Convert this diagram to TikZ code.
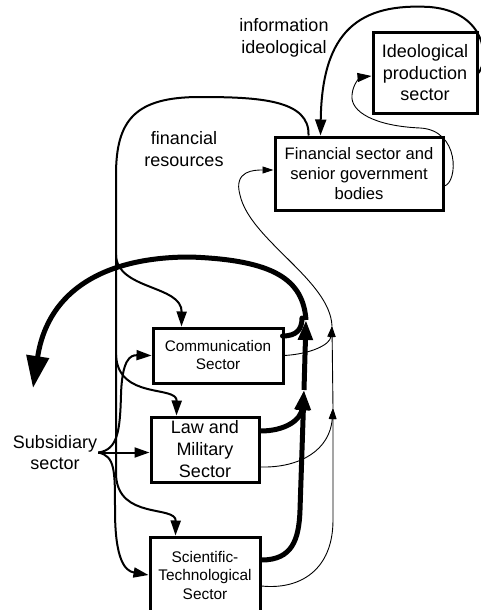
\documentclass[tikz,border=0pt]{standalone}
\usepackage{fontspec}
\setmainfont{Liberation Sans}
\usetikzlibrary{arrows.meta}
\begin{document}
\begin{tikzpicture}[x=1pt,y=-1pt,
  box/.style={draw,line width=3pt,align=center,inner sep=0pt},
  lbl/.style={align=center,inner sep=1pt,font=\fontsize{18}{21.5}\selectfont},
  thinln/.style={line width=0.9pt,-{Triangle[length=11pt,width=7pt]}},
  medln/.style={line width=2pt,-{Triangle[length=15pt,width=10pt]}},
  thickln/.style={line width=5pt,-{Triangle[length=20pt,width=14pt]}},
]
\useasboundingbox (0,0) rectangle (481,610);
\clip (0,0) rectangle (481,610);

% sectors
\node[box,minimum width=104pt,minimum height=80pt,font=\fontsize{18}{21.5}\selectfont] (ideo) at (425,73) {Ideological\\production\\sector};
\node[box,minimum width=168pt,minimum height=73pt,font=\fontsize{16.6}{20}\selectfont] (fin) at (359,173.5) {Financial sector and\\senior government\\bodies};
\node[box,minimum width=130pt,minimum height=55pt,font=\fontsize{15.3}{18}\selectfont] (comm) at (218,355.5) {Communication\\Sector};
\node[box,minimum width=108pt,minimum height=65pt,font=\fontsize{18}{22}\selectfont] (law) at (205,449.5) {Law and\\Military\\Sector};
\node[box,minimum width=110pt,minimum height=76pt,font=\fontsize{15.4}{18.5}\selectfont] (sci) at (205,575) {Scientific-\\Technological\\Sector};

% free labels
\node[lbl] (info) at (284,38) {information\\ideological};
\node[lbl] (finres) at (184,149) {financial\\resources};
\node[lbl] (subs) at (55,452.5) {Subsidiary\\sector};

% junction points
\coordinate (fr1) at (116,255);
\coordinate (fr2) at (116,355);
\coordinate (fr3) at (116,475);
\coordinate (tk1) at (304,390);
\coordinate (tk2) at (306,320);
\coordinate (tn1) at (333,408);
\coordinate (tn2) at (332,326);
\coordinate (out) at (33,388);

% ideological flow into the financial sector
\draw[line width=2pt,-{Triangle[length=16pt,width=11pt]}] (ideo.east) .. controls (489,60) and (487,12) .. (430,7) .. controls (360,3) and (322,30) .. ([xshift=47pt]fin.north west);
% return flow to ideological production
\draw[line width=0.9pt,-{Triangle[length=14pt,width=9pt]}] ([yshift=-12.5pt]fin.east) .. controls (458,182) and (460,130) .. (420,128) .. controls (375,126) and (350,112) .. (352,95) .. controls (353,82) and (362,77) .. ([yshift=-3pt]ideo.west);

% financial resources
\draw[line width=2pt] ([xshift=35pt]fin.north west) .. controls (310,100) and (260,97) .. (200,97) .. controls (135,97) and (116,120) .. (116,175) -- (fr3);
\draw[medln] (fr1) .. controls (117,290) and (182,285) .. ([xshift=30pt]comm.north west);
\draw[medln] (fr2) .. controls (118,400) and (177,385) .. ([xshift=27pt]law.north west);
\draw[medln] (fr3) .. controls (118,520) and (176,505) .. ([xshift=27pt]sci.north west);

% subsidiary sector
\draw[medln] (subs.east) -- (subs.east -| law.west);
\draw[medln] (subs.east) .. controls (118,450) and (120,430) .. (121,395) .. controls (122,360) and (130,355) .. (comm.west);
\draw[medln] (subs.east) .. controls (115,456) and (115,470) .. (115,510) .. controls (115,560) and (125,571) .. (sci.west);

% main output flow
\draw[thickln] ([yshift=15pt]sci.east) .. controls (292,560) and (299,540) .. (300,510) -- (tk1);
\draw[thickln] ([yshift=18.5pt]law.east) .. controls (285,431) and (301,420) .. (tk1);
\draw[thickln] (tk1) -- (tk2);
\draw[line width=5pt,line cap=round] ([yshift=19.5pt,xshift=-2pt]comm.east) .. controls (296,336) and (302,330) .. (302,318);
\draw[line width=5pt,-{Triangle[length=32pt,width=22pt]}] (tk2) .. controls (303,280) and (275,260) .. (190,257) .. controls (108,257) and (48,288) .. (out);

% feedback to the financial sector
\draw[thinln] ([yshift=-11pt]sci.east) .. controls (300,590) and (333,570) .. (333,520) -- (tn1);
\draw[thinln] ([yshift=-17.5pt]law.east) .. controls (300,468) and (330,450) .. (tn1);
\draw[thinln] (tn1) -- (tn2);
\draw[thinln] (comm.east) .. controls (310,354) and (330,345) .. (tn2);
\draw[thinln] (tn2) .. controls (330,280) and (250,240) .. (240,195) .. controls (233,170) and (255,170) .. ([yshift=3.5pt]fin.west);
\end{tikzpicture}
\end{document}
